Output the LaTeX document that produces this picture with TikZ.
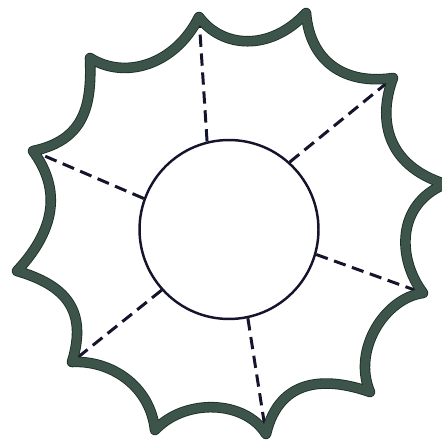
\documentclass[tikz,border=0pt]{standalone}
\usepackage{tikz}
\usetikzlibrary{positioning}
\definecolor{rimGreen}{RGB}{60,84,74}
\definecolor{rimEdge}{RGB}{28,46,42}
\definecolor{inkNavy}{RGB}{20,20,44}
\begin{document}
\begin{tikzpicture}[x=0.02cm, y=-0.02cm,
		hub/.style={draw=inkNavy, circle, line width=1.4pt, minimum size=3.58cm, inner sep=0pt},
		spoke/.style={draw=inkNavy, line width=1.7pt, dash pattern=on 7pt off 3.8pt},
		rim/.style={draw=rimEdge, line width=0.5pt, double=rimGreen, double distance=5pt, line join=round}]
	\useasboundingbox (0,0) rectangle (441,445);
	\node[hub] (disc) at (229,229.5) {};
	\coordinate (a) at (199,17);
	\coordinate (b) at (306,13);
	\coordinate (c) at (393,78);
	\coordinate (d) at (445,184);
	\coordinate (e) at (423,293);
	\coordinate (f) at (370,392);
	\coordinate (g) at (266,434);
	\coordinate (h) at (155,430);
	\coordinate (i) at (72,362);
	\coordinate (j) at (17,271);
	\coordinate (k) at (33,151);
	\coordinate (l) at (90,58);
	\draw[spoke] (disc.104.4) -- (a);
	\draw[spoke] (disc.48) -- (c);
	\draw[spoke] (disc.-16.3) -- (e);
	\draw[spoke] (disc.-78.4) -- (g);
	\draw[spoke] (disc.222.5) -- (i);
	\draw[spoke] (disc.160.9) -- (k);
	\draw[rim] (a) .. controls (222,48) and (270,52) .. (b)
		.. controls (310,62) and (345,85) .. (c)
		.. controls (378,118) and (385,165) .. (d)
		.. controls (395,205) and (398,260) .. (e)
		.. controls (385,298) and (352,350) .. (f)
		.. controls (330,378) and (280,375) .. (g)
		.. controls (245,400) and (185,398) .. (h)
		.. controls (150,385) and (110,360) .. (i)
		.. controls (88,310) and (65,285) .. (j)
		.. controls (60,225) and (58,185) .. (k)
		.. controls (85,140) and (92,105) .. (l)
		.. controls (125,80) and (175,65) .. cycle;
\end{tikzpicture}
\end{document}
